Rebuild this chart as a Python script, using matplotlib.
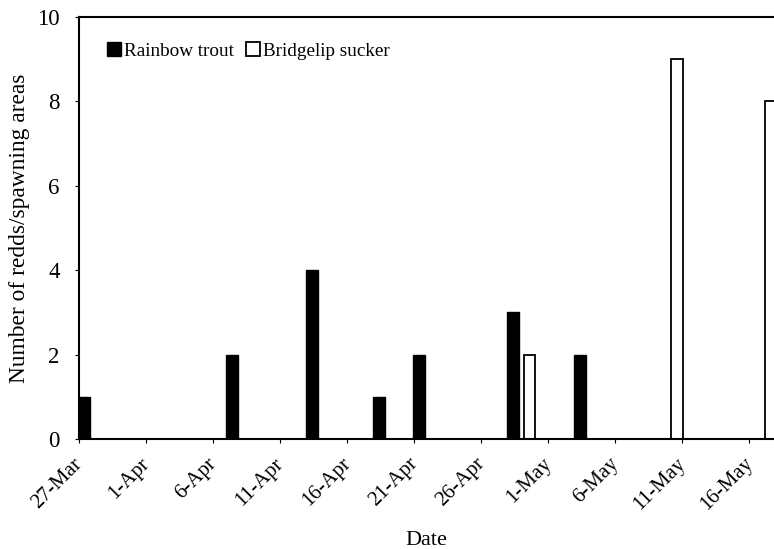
import pandas as pd
import matplotlib.pyplot as plt
import matplotlib.transforms as mtransforms

plt.rcParams['font.family'] = ['Liberation Serif', 'DejaVu Serif']

# Spawning counts
trout_dates = ["27-Mar", "7-Apr", "13-Apr", "18-Apr", "21-Apr", "28-Apr", "3-May"]
trout_counts = [1, 2, 4, 1, 2, 3, 2]
sucker_dates = ["29-Apr", "10-May", "17-May"]
sucker_counts = [2, 9, 8]
tick_labels = ["27-Mar", "1-Apr", "6-Apr", "11-Apr", "16-Apr", "21-Apr",
               "26-Apr", "1-May", "6-May", "11-May", "16-May"]

start = pd.to_datetime("2000-27-Mar", format="%Y-%d-%b")


def day_pos(labels):
    d = pd.to_datetime(["2000-" + s for s in labels], format="%Y-%d-%b")
    return (d - start).days


fig = plt.figure(figsize=(7.74, 5.49), dpi=100)
ax = fig.add_axes([79 / 774, 1 - 439 / 549, 1 - 79 / 774, (439 - 17) / 549])

ax.bar(day_pos(trout_dates) + 0.4, trout_counts, width=0.9, color="black",
       edgecolor="black", linewidth=1, label="Rainbow trout")
ax.bar(day_pos(sucker_dates) + 0.6, sucker_counts, width=0.85, color="white",
       edgecolor="black", linewidth=1.3, label="Bridgelip sucker")

ax.set_xlim(0, 51.85)
ax.set_ylim(0, 10)
ax.set_yticks(range(0, 11, 2))
ax.set_xticks(day_pos(tick_labels))
ax.set_xticklabels(tick_labels, rotation=45, ha="right", rotation_mode="anchor")
ax.tick_params(axis="both", direction="out", length=3, width=0.8)
ax.tick_params(axis="x", pad=8, labelsize=15)
ax.tick_params(axis="y", pad=11, labelsize=16.5)

# nudge the rotated date labels left so their ends sit on the ticks
shift = mtransforms.ScaledTranslation(-6 / 100, 0, fig.dpi_scale_trans)
for lab in ax.get_xticklabels():
    lab.set_transform(lab.get_transform() + shift)

for side in ["left", "top", "bottom"]:
    ax.spines[side].set_linewidth(1.5)
ax.spines["right"].set_visible(False)

ax.set_xlabel("Date", fontsize=16, labelpad=12)
ax.set_ylabel("Number of redds/spawning areas", fontsize=16.8, labelpad=5)

ax.legend(loc="upper left", bbox_to_anchor=(0.04, 0.94), ncol=2, frameon=False,
          fontsize=13.8, handlelength=0.72, handleheight=0.72, handletextpad=0.2,
          columnspacing=0.6, borderpad=0, borderaxespad=0)

plt.savefig("out.png")
